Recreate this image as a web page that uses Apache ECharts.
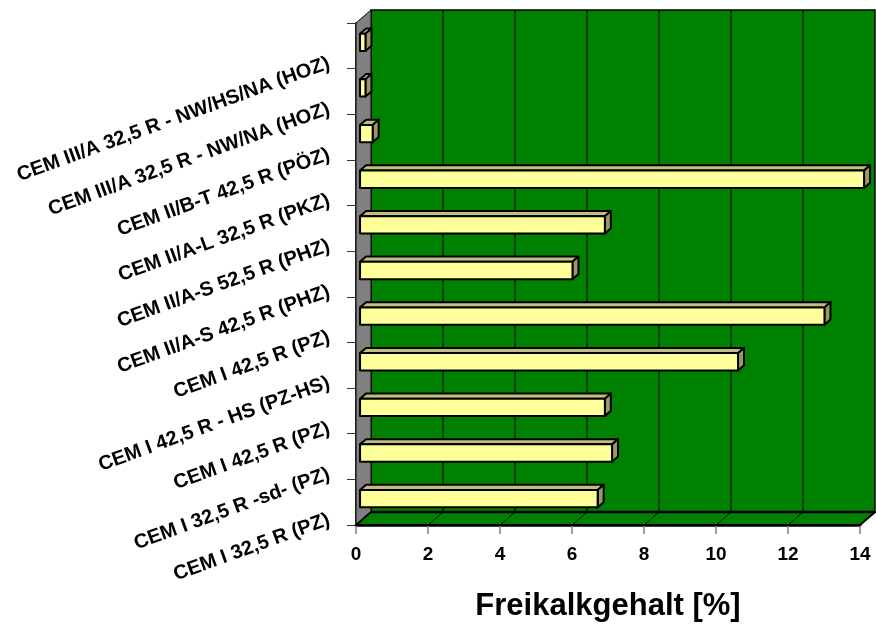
<!DOCTYPE html>
<html>
<head>
<meta charset="utf-8">
<script src="https://cdn.jsdelivr.net/npm/echarts@6/dist/echarts.min.js"></script>
<style>
  html, body { margin: 0; padding: 0; background: #fff; }
  #chart { width: 876px; height: 630px; }
</style>
</head>
<body>
<div id="chart"></div>
<script>
// Cement types, listed from the bottom row to the top row
const categories = [
  'CEM I 32,5 R (PZ)',
  'CEM I 32,5 R -sd- (PZ)',
  'CEM I 42,5 R (PZ)',
  'CEM I 42,5 R - HS (PZ-HS)',
  'CEM I 42,5 R (PZ)',
  'CEM II/A-S 42,5 R (PHZ)',
  'CEM II/A-S 52,5 R (PHZ)',
  'CEM II/A-L 32,5 R (PKZ)',
  'CEM II/B-T 42,5 R (PÖZ)',
  'CEM III/A 32,5 R - NW/NA (HOZ)',
  'CEM III/A 32,5 R - NW/HS/NA (HOZ)'
];

// Free lime content in %
const freeLime = [6.6, 7.0, 6.8, 10.5, 12.9, 5.9, 6.8, 14.0, 0.35, 0.15, 0.15];

// Value axis ticks
const xTicks = [0, 2, 4, 6, 8, 10, 12, 14];

const FONT = '"Liberation Sans", Arial, sans-serif';

// Depth of the pseudo-3D box (back plane offset)
const DEPTH_X = 15;
const DEPTH_Y = -13;
// Bars sit between these fractions of the depth
const BAR_T0 = 0.27;
const BAR_T1 = 0.67;
const BAR_H = 0.38;

const chart = echarts.init(document.getElementById('chart'), null, { renderer: 'canvas' });

function renderWalls(params, api) {
  const cs = params.coordSys;
  const x = cs.x, y = cs.y, w = cs.width, h = cs.height;
  const children = [];
  // back wall
  children.push({
    type: 'rect',
    shape: { x: x + DEPTH_X, y: y + DEPTH_Y, width: w, height: h },
    style: { fill: '#008000', stroke: '#000', lineWidth: 1.5 }
  });
  // left side wall
  children.push({
    type: 'polygon',
    shape: { points: [[x, y], [x + DEPTH_X, y + DEPTH_Y], [x + DEPTH_X, y + h + DEPTH_Y], [x, y + h]] },
    style: { fill: '#808080', stroke: '#000', lineWidth: 1 }
  });
  // floor
  children.push({
    type: 'polygon',
    shape: { points: [[x, y + h], [x + DEPTH_X, y + h + DEPTH_Y], [x + w + DEPTH_X, y + h + DEPTH_Y], [x + w, y + h]] },
    style: { fill: '#008000', stroke: '#000', lineWidth: 2 }
  });
  // gridlines on the back wall and floor
  xTicks.forEach(function (v) {
    const px = api.coord([v, 0])[0];
    if (v > xTicks[0] && v < xTicks[xTicks.length - 1]) {
      children.push({
        type: 'line',
        shape: { x1: px + DEPTH_X, y1: y + DEPTH_Y, x2: px + DEPTH_X, y2: y + h + DEPTH_Y },
        style: { stroke: '#000', lineWidth: 1 }
      });
    }
    children.push({
      type: 'line',
      shape: { x1: px, y1: y + h, x2: px + DEPTH_X, y2: y + h + DEPTH_Y },
      style: { stroke: '#000', lineWidth: 1 }
    });
  });
  // back-bottom edge of the floor
  children.push({
    type: 'line',
    shape: { x1: x + DEPTH_X, y1: y + h + DEPTH_Y, x2: x + w + DEPTH_X, y2: y + h + DEPTH_Y },
    style: { stroke: '#000', lineWidth: 2.5 }
  });
  return { type: 'group', children: children };
}

function renderBar(params, api) {
  const v = api.value(0);
  const cat = api.value(1);
  const a = api.coord([0, cat]);
  const b = api.coord([v, cat]);
  const band = api.size([0, 1])[1];
  const x0 = a[0] + DEPTH_X * BAR_T0;
  const x1 = b[0] + DEPTH_X * BAR_T0;
  const yc = a[1] + DEPTH_Y * BAR_T0;
  const hh = band * BAR_H;
  const top = yc - hh / 2, bot = yc + hh / 2;
  const ddx = DEPTH_X * (BAR_T1 - BAR_T0);
  const ddy = DEPTH_Y * (BAR_T1 - BAR_T0);
  const line = { stroke: '#000', lineWidth: 2, lineJoin: 'round' };
  return {
    type: 'group',
    children: [
      {
        type: 'polygon',
        shape: { points: [[x0, top], [x1, top], [x1 + ddx, top + ddy], [x0 + ddx, top + ddy]] },
        style: Object.assign({ fill: '#BFBF80' }, line)
      },
      {
        type: 'polygon',
        shape: { points: [[x1, top], [x1 + ddx, top + ddy], [x1 + ddx, bot + ddy], [x1, bot]] },
        style: Object.assign({ fill: '#999966' }, line)
      },
      {
        type: 'rect',
        shape: { x: x0, y: top, width: x1 - x0, height: hh },
        style: Object.assign({ fill: '#FFFF99' }, line)
      }
    ]
  };
}

function renderLabel(params, api) {
  const cat = api.value(1);
  const p = api.coord([0, cat]);
  return {
    type: 'text',
    x: p[0] - 27,
    y: p[1] + 17,
    rotation: 20 * Math.PI / 180,
    style: {
      text: categories[cat],
      fill: '#000',
      font: 'bold 20px ' + FONT,
      align: 'right',
      verticalAlign: 'middle'
    }
  };
}

chart.setOption({
  animation: false,
  backgroundColor: '#fff',
  grid: { left: 356, right: 16, top: 23, bottom: 105 },
  xAxis: {
    type: 'value',
    min: 0,
    max: 14,
    interval: 2,
    axisLine: { show: true, lineStyle: { color: '#000', width: 2.5 } },
    axisTick: { show: true, length: 9, lineStyle: { color: '#808080', width: 1.5 } },
    axisLabel: { color: '#000', fontFamily: FONT, fontWeight: 'bold', fontSize: 19, margin: 20 },
    splitLine: { show: false },
    name: 'Freikalkgehalt [%]',
    nameLocation: 'middle',
    nameGap: 66,
    nameTextStyle: { color: '#000', fontFamily: FONT, fontWeight: 'bold', fontSize: 31 }
  },
  yAxis: {
    type: 'category',
    data: categories,
    axisLine: { show: true, lineStyle: { color: '#000', width: 1.5 } },
    axisTick: { show: true, length: 9, lineStyle: { color: '#333', width: 1 } },
    axisLabel: { show: false },
    splitLine: { show: false }
  },
  series: [
    {
      type: 'custom',
      name: 'walls',
      renderItem: renderWalls,
      data: [[0, 0]],
      silent: true,
      z: 1
    },
    {
      type: 'custom',
      name: 'Freikalkgehalt',
      renderItem: renderBar,
      encode: { x: 0, y: 1 },
      data: freeLime.map(function (v, i) { return [v, i]; }),
      z: 3
    },
    {
      type: 'custom',
      name: 'labels',
      renderItem: renderLabel,
      encode: { x: 0, y: 1 },
      data: categories.map(function (c, i) { return [0, i]; }),
      silent: true,
      z: 4
    }
  ]
});
</script>
</body>
</html>
